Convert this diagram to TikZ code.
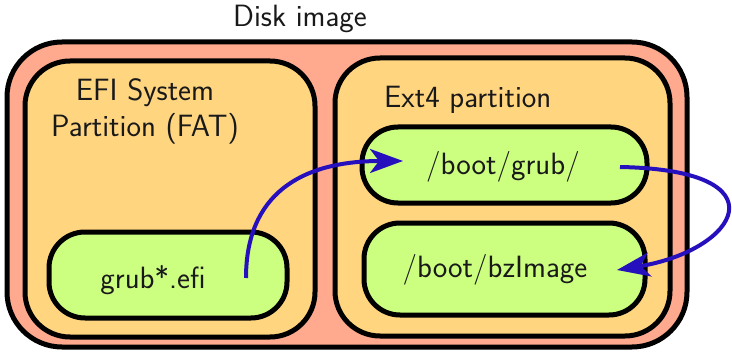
\documentclass[tikz,border=0pt]{standalone}
\usepackage{fontspec}
\usetikzlibrary{arrows.meta}
\definecolor{disk}{RGB}{255,170,143}
\definecolor{part}{RGB}{255,213,128}
\definecolor{file}{RGB}{204,255,128}
\definecolor{arr}{RGB}{38,16,190}
\begin{document}
\begin{tikzpicture}[x=1pt,y=-1pt,
  box/.style={draw=black,line width=5pt,rectangle,inner sep=0pt},
  lbl/.style={font=\sffamily\fontsize{30.8}{36}\selectfont,anchor=base,inner sep=0pt,text=black!90},
  link/.style={draw=arr,line width=4pt,-{Stealth[length=33pt,width=24pt,inset=9pt]}}]
\useasboundingbox (0,0) rectangle (732,353);
% disk
\node[box,fill=disk,rounded corners=55pt,minimum width=680pt,minimum height=305pt] (disk) at (347,194.5) {};
% partitions
\node[box,fill=part,rounded corners=45pt,minimum width=290pt,minimum height=276pt] (efi) at (170,199) {};
\node[box,fill=part,rounded corners=45pt,minimum width=335pt,minimum height=278pt] (ext) at (502.5,197) {};
% files
\node[box,fill=file,rounded corners=36pt,minimum width=238pt,minimum height=86pt] (grubefi) at (168,275) {};
\node[box,fill=file,rounded corners=36pt,minimum width=285pt,minimum height=76pt] (grubdir) at (504.5,165) {};
\node[box,fill=file,rounded corners=36pt,minimum width=281pt,minimum height=92pt] (bz) at (504.5,269) {};
% labels
\node[lbl] (tdisk) at (300,27) {Disk image};
\node[lbl] (tefia) at (145,101) {EFI System};
\node[lbl] (tefib) at (145,137) {Partition (FAT)};
\node[lbl,anchor=base west] (text4) at (384,108) {Ext4 partition};
\node[lbl] (tgrubdir) at (503,175) {/boot/grub/};
\node[lbl] (tbz) at (495,277) {/boot/bzImage};
\node[lbl] (tgrubefi) at (153,288) {grub*.efi};
% arrows
\coordinate (a1s) at (246,278);
\coordinate (a1e) at (403,161);
\coordinate (a2s) at (620,167);
\coordinate (a2e) at (617,270);
\draw[link] (a1s) .. controls (246,195) and (300,161) .. (a1e);
\draw[link] (a2s) .. controls (786,170) and (738,250) .. (a2e);
\end{tikzpicture}
\end{document}
